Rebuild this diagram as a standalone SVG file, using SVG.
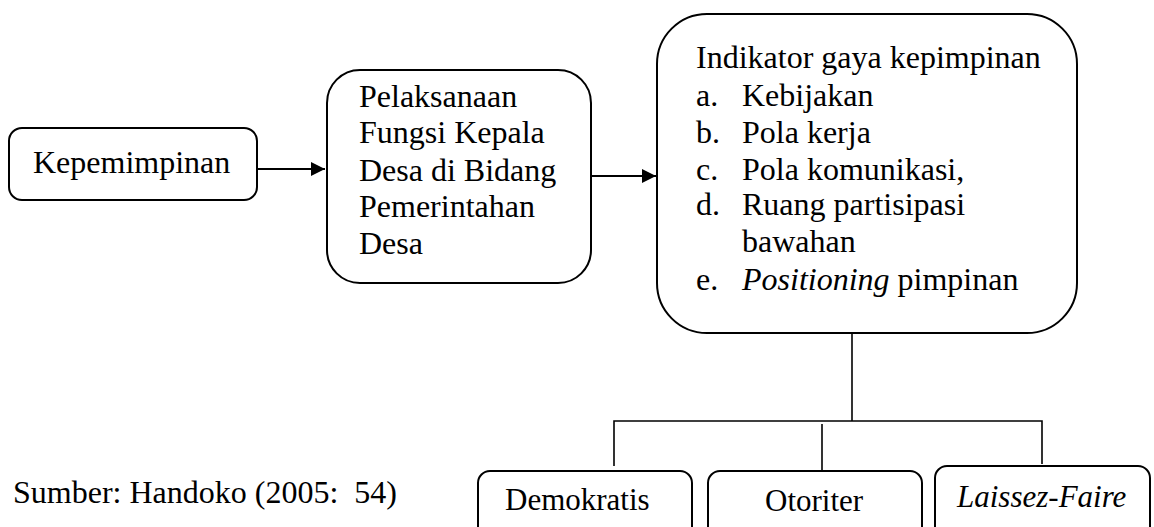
<svg xmlns="http://www.w3.org/2000/svg" width="1154" height="527" viewBox="0 0 1154 527">
<style>
  .box{fill:#fff;stroke:#000;stroke-width:2}
  .t{font-family:'Liberation Serif',serif;font-size:32px;fill:#000}
  .s{font-family:'Liberation Serif',serif;font-size:31px;fill:#000}
  .ln{fill:none;stroke:#000;stroke-width:2}
  .br{fill:none;stroke:#000;stroke-width:1.6}
</style>
<defs>
  <marker id="ah" viewBox="0 0 10 10" refX="10" refY="5" markerWidth="16" markerHeight="14" markerUnits="userSpaceOnUse" orient="auto">
    <path d="M0,0 L10,5 L0,10 Z" fill="#000"/>
  </marker>
</defs>
<rect width="1154" height="527" fill="#fff"/>
<g id="n1">
  <rect class="box" x="9" y="128" width="248" height="72" rx="13"/>
  <text class="t" x="33" y="173">Kepemimpinan</text>
</g>
<g id="n2">
  <rect class="box" x="327" y="70" width="264" height="213" rx="33"/>
  <text class="t" x="359" y="107">Pelaksanaan</text>
  <text class="t" x="359" y="143">Fungsi Kepala</text>
  <text class="t" x="359" y="181">Desa di Bidang</text>
  <text class="t" x="359" y="217">Pemerintahan</text>
  <text class="t" x="359" y="254">Desa</text>
</g>
<g id="n3">
  <rect class="box" x="657" y="14" width="420" height="319" rx="50"/>
  <text class="t" x="696" y="68">Indikator gaya kepimpinan</text>
  <text class="t" x="696" y="106">a.</text><text class="t" x="742" y="106">Kebijakan</text>
  <text class="t" x="696" y="143">b.</text><text class="t" x="742" y="143">Pola kerja</text>
  <text class="t" x="696" y="180">c.</text><text class="t" x="742" y="180">Pola komunikasi,</text>
  <text class="t" x="696" y="215">d.</text><text class="t" x="742" y="215">Ruang partisipasi</text>
  <text class="t" x="742" y="252">bawahan</text>
  <text class="t" x="696" y="290">e.</text><text class="t" x="742" y="290"><tspan font-style="italic">Positioning</tspan> pimpinan</text>
</g>
<g id="n4">
  <rect class="box" x="478" y="471" width="214" height="80" rx="12"/>
  <text class="s" x="505" y="510">Demokratis</text>
</g>
<g id="n5">
  <rect class="box" x="708" y="471" width="214" height="80" rx="12"/>
  <text class="s" x="765" y="511">Otoriter</text>
</g>
<g id="n6">
  <rect class="box" x="935" y="466" width="215" height="85" rx="12"/>
  <text class="s" x="957" y="507" font-style="italic">Laissez-Faire</text>
</g>
<g id="note">
  <text class="t" x="13" y="503">Sumber: Handoko (2005:&#160; 54)</text>
</g>
<g id="connectors">
  <line class="ln" x1="257" y1="169" x2="325" y2="169" marker-end="url(#ah)"/>
  <line class="ln" x1="591" y1="176" x2="656" y2="176" marker-end="url(#ah)"/>
  <line class="br" x1="852" y1="333" x2="852" y2="421"/>
  <polyline class="br" points="614,466 614,421 1042,421 1042,464"/>
  <line class="br" x1="822" y1="424" x2="822" y2="471"/>
</g>
</svg>
